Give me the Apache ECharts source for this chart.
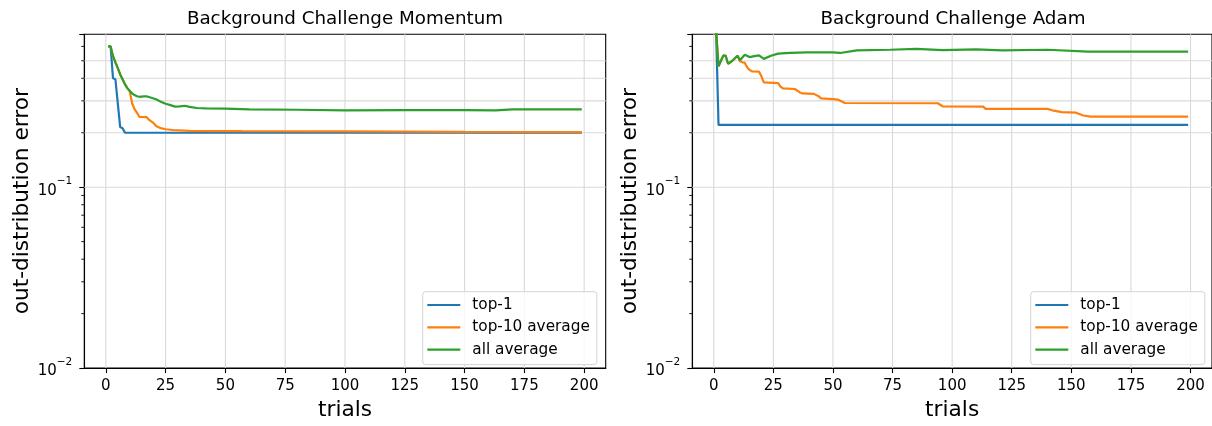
<!DOCTYPE html>
<html><head><meta charset="utf-8">
<script src="https://cdn.jsdelivr.net/npm/echarts@6/dist/echarts.min.js"></script>
<style>html,body{margin:0;padding:0;background:#fff}#c{width:1212px;height:426px}</style>
</head><body><div id="c"></div>
<script>
// ---- data ----
const titles = ['Background Challenge Momentum', 'Background Challenge Adam'];
const seriesNames = ['top-1', 'top-10 average', 'all average'];
const xTicks = [0, 25, 50, 75, 100, 125, 150, 175, 200];
const yMinorTicks = [0.02,0.03,0.04,0.05,0.06,0.07,0.08,0.09,0.2,0.3,0.4,0.5,0.6];
const yGridValues = [0.1, 0.2, 0.3, 0.4, 0.5];

const momTop1 = [[1,0.6],[2,0.6],[3,0.40],[4,0.395],[6,0.215],[7,0.212],[8,0.2],[199,0.2]];
const momTop10 = [[1,0.6],[2,0.6],[3,0.53],[4,0.49],[5,0.455],[6,0.42],[7,0.395],[8,0.37],[9,0.353],[10,0.34],
  [11,0.29],[12,0.27],[13,0.258],[14,0.245],[17,0.244],[18,0.236],[19,0.231],[20,0.226],[21,0.218],[23,0.212],
  [25,0.209],[28,0.207],[35,0.205],[57,0.204],[100,0.2035],[125,0.203],[150,0.202],[199,0.2015]];
const momAll = [[1,0.6],[2,0.6],[3,0.53],[4,0.49],[5,0.455],[6,0.42],[7,0.395],[8,0.37],[9,0.353],[10,0.34],
  [11,0.33],[12,0.323],[13,0.318],[14,0.316],[16,0.318],[17,0.318],[19,0.312],[21,0.306],[23,0.297],[25,0.289],
  [27,0.284],[29,0.279],[31,0.280],[33,0.282],[35,0.278],[38,0.274],[42,0.273],[50,0.272],[60,0.269],[80,0.268],
  [100,0.266],[125,0.267],[150,0.267],[163,0.266],[170,0.269],[199,0.269]];

const adamTop1 = [[1,0.72],[2,0.221],[199,0.221]];
const adamTop10 = [[1,0.72],[2,0.466],[3,0.50],[4,0.533],[5,0.533],[6,0.481],[8,0.503],[10,0.533],[11,0.497],
  [12,0.49],[13,0.488],[14,0.46],[15,0.445],[16,0.437],[19,0.435],[20,0.41],[21,0.38],[27,0.376],[28,0.36],
  [29,0.352],[34,0.349],[36,0.335],[37,0.33],[42,0.328],[44,0.318],[45,0.31],[50,0.307],[52,0.305],[55,0.292],
  [94,0.291],[96,0.28],[113,0.279],[114,0.271],[140,0.271],[142,0.266],[146,0.26],[152,0.258],[155,0.249],
  [158,0.2456],[199,0.2456]];
const adamAll = [[1,0.72],[2,0.466],[3,0.50],[4,0.533],[5,0.533],[6,0.481],[8,0.503],[10,0.533],[11,0.503],
  [13,0.540],[15,0.524],[17,0.53],[19,0.535],[21,0.512],[24,0.533],[27,0.547],[32,0.552],[39,0.556],[50,0.556],
  [53,0.552],[60,0.570],[74,0.575],[85,0.582],[96,0.572],[110,0.578],[121,0.570],[140,0.575],[157,0.562],[199,0.562]];

const panels = [[momTop1, momTop10, momAll], [adamTop1, adamTop10, adamAll]];
const colors = ['#1f77b4', '#ff7f0e', '#2ca02c'];

// ---- layout ----
const FONT = 'DejaVu Sans';
const grids = [
  {left: 84.3, top: 34.3, width: 521.4, height: 338.4},
  {left: 692.3, top: 34.3, width: 521.4, height: 338.4}
];

const option = {
  animation: false,
  backgroundColor: '#fff',
  textStyle: {fontFamily: FONT},
  grid: grids.map(g => Object.assign({show: true, borderColor: '#000', borderWidth: 1.1, backgroundColor: 'transparent'}, g)),
  graphic: grids.map((g, i) => ({
    type: 'text', x: g.left + g.width / 2, y: 19.5, silent: true,
    style: {text: titles[i], align: 'center', verticalAlign: 'middle', fontSize: 18.3, fontFamily: FONT, fill: '#000'}
  })),
  xAxis: grids.map((g, i) => ({
    type: 'value', gridIndex: i, min: -9, max: 209,
    name: 'trials', nameLocation: 'middle', nameGap: 30,
    nameTextStyle: {fontSize: 21.7, color: '#000', fontFamily: FONT},
    axisLine: {show: true, onZero: false, lineStyle: {color: '#000', width: 1.1}},
    axisTick: {show: true, customValues: xTicks, length: 5, lineStyle: {color: '#000', width: 1.1}},
    axisLabel: {show: true, customValues: xTicks, margin: 11, fontSize: 15, color: '#000', fontFamily: FONT},
    splitLine: {show: false}
  })),
  yAxis: grids.map((g, i) => ({
    type: 'log', logBase: 10, gridIndex: i, min: 0.01, max: 0.7,
    name: 'out-distribution error', nameLocation: 'middle', nameGap: 50,
    nameTextStyle: {fontSize: 21.7, color: '#000', fontFamily: FONT},
    axisLine: {show: true, onZero: false, lineStyle: {color: '#000', width: 1.1}},
    axisTick: {show: true, length: 5, lineStyle: {color: '#000', width: 1.1}},
    axisLabel: {
      show: true, margin: 12, color: '#000', fontFamily: FONT,
      formatter: v => {
        const e = Math.log10(v);
        if (Math.abs(e - Math.round(e)) > 1e-6) return '';
        return '{b|10}{s|\u2212' + Math.abs(Math.round(e)) + '}';
      },
      rich: {
        b: {fontSize: 15, lineHeight: 22, verticalAlign: 'bottom', color: '#000', fontFamily: FONT},
        s: {fontSize: 10.5, lineHeight: 11, verticalAlign: 'top', color: '#000', fontFamily: FONT}
      }
    },
    splitLine: {show: false},
    minorTick: {show: false}
  })),
  legend: grids.map((g, i) => ({
    orient: 'vertical', left: i === 0 ? 422.7 : 1030.7, top: 291.7,
    data: seriesNames.map((n, k) => ({name: n, icon: 'rect', itemStyle: {color: colors[k]}})),
    itemWidth: 33, itemHeight: 2.2, itemGap: 6.3,
    padding: [5.3, 7, 7, 4.6],
    backgroundColor: 'rgba(255,255,255,0.8)', borderColor: '#d3d3d3', borderWidth: 1, borderRadius: 3,
    textStyle: {fontSize: 15.3, color: '#000', fontFamily: FONT, lineHeight: 16, padding: [0, 0, 0, 7]},
    selectedMode: false
  })),
  series: []
};

// grid lines and minor ticks drawn through the axes' scales
grids.forEach((g, i) => {
  const items = [];
  xTicks.forEach(t => items.push([t, 0.1, 0]));
  yGridValues.forEach(v => items.push([0, v, 1]));
  yMinorTicks.forEach(v => items.push([0, v, 2]));
  option.series.push({
    type: 'custom', xAxisIndex: i, yAxisIndex: i, silent: true, z: 1, clip: false,
    encode: {x: 0, y: 1},
    data: items,
    renderItem: (params, api) => {
      const cs = params.coordSys;
      const kind = api.value(2);
      const p = api.coord([api.value(0), api.value(1)]);
      if (kind === 0) {
        return {type: 'line', shape: {x1: p[0], y1: cs.y, x2: p[0], y2: cs.y + cs.height},
          style: {stroke: '#d9d9d9', lineWidth: 1.1}};
      }
      if (kind === 1) {
        return {type: 'line', shape: {x1: cs.x, y1: p[1], x2: cs.x + cs.width, y2: p[1]},
          style: {stroke: '#d9d9d9', lineWidth: 1.1}};
      }
      return {type: 'line', shape: {x1: cs.x - 3, y1: p[1], x2: cs.x, y2: p[1]},
        style: {stroke: '#000', lineWidth: 0.9}};
    }
  });
  panels[i].forEach((d, k) => {
    option.series.push({
      name: seriesNames[k], type: 'line', xAxisIndex: i, yAxisIndex: i,
      data: d, showSymbol: false, symbol: 'none', z: 3 + k,
      lineStyle: {color: colors[k], width: 2.2}, itemStyle: {color: colors[k]},
      emphasis: {disabled: true}
    });
  });
});

const chart = echarts.init(document.getElementById('c'), null, {renderer: 'canvas'});
chart.setOption(option);
</script>
</body></html>
